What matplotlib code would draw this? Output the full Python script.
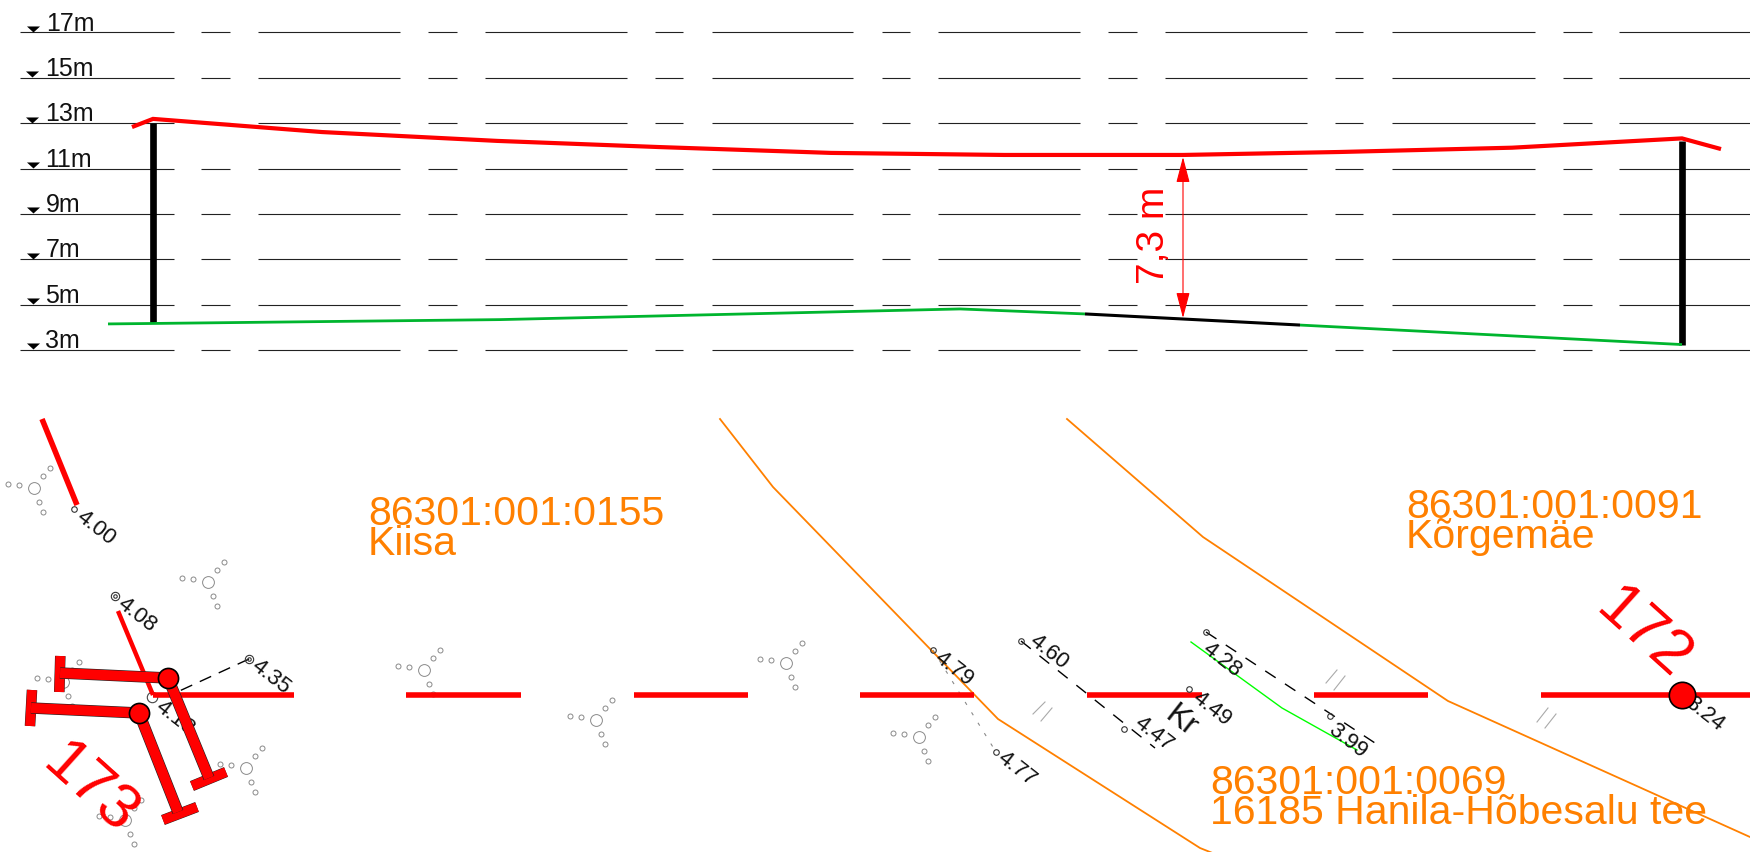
import matplotlib
matplotlib.use('Agg')
import matplotlib.pyplot as plt
import matplotlib.patheffects as pe
import numpy as np

plt.rcParams['font.family'] = ['Liberation Sans', 'DejaVu Sans']

W, H = 1750, 852

# profile part: x in pixels, y in metres
levels = [17, 15, 13, 11, 9, 7, 5, 3]
level_labels = ['17m', '15m', '13m', '11m', '9m', '7m', '5m', '3m']
level_label_x = [46, 45, 45, 45, 45.5, 45.5, 45.5, 45.5]
tri_x = [33, 32, 32, 32.5, 32.5, 32.5, 32.5, 32.5]
grid_start = [20, 201, 258, 428, 485, 655, 712, 882, 938, 1108, 1165, 1335, 1392, 1563, 1619]
grid_end = [174, 230, 400, 457, 627, 683, 853, 910, 1080, 1137, 1307, 1363, 1535, 1592, 1750]

red_x = [132, 153, 322, 497, 658, 831, 1004, 1183, 1339, 1512, 1682, 1721]
red_y = [12.83, 13.19, 12.61, 12.22, 11.95, 11.69, 11.60, 11.60, 11.73, 11.92, 12.33, 11.86]
green_x = [108, 153, 500, 960, 1085]
green_y = [4.15, 4.17, 4.34, 4.81, 4.59]
black_x = [1085, 1300]
black_y = [4.59, 4.10]
green2_x = [1300, 1682]
green2_y = [4.10, 3.24]
piles_x = [153, 1682]
piles_bottom = [4.17, 3.22]
piles_top = [13.0, 12.2]
arrow_x = 1183
arrow_top = 11.51
arrow_bottom = 4.41

# plan part: pixel positions on the sheet
road_start = [153, 406, 634, 860, 1087, 1314, 1541]
road_end = [294, 521, 748, 974, 1202, 1428, 1750]
road_y = 695
orange1_x = [720, 773, 998, 1200, 1225]
orange1_y = [419, 487, 719, 848, 858]
orange2_x = [1067, 1203, 1448, 1750]
orange2_y = [419, 537, 701, 837]
green_plan_x = [1191, 1282, 1357]
green_plan_y = [642, 708, 750]

cluster_x = [34, 208, 63, 246, 125, 424, 595.5, 786, 918.5]
cluster_y = [488, 582, 682, 768, 820, 670, 720, 663, 737]
small_dx = [-25.7, -14.7, 9.3, 16.3, 5.3, 9.3]
small_dy = [-4.3, -2.7, -11.7, -20.3, 13.7, 24.3]

hatch_x0 = [1033, 1041, 1326, 1334, 1537, 1545]
hatch_y0 = [714, 721, 683, 690, 722, 728]
hatch_x1 = [1045, 1052, 1337, 1345, 1548, 1556]
hatch_y1 = [702, 708, 670, 676, 708, 714]

point_x = [74, 933, 1021, 1124, 1189, 1206, 1330, 996]
point_y = [509, 650, 641, 729, 689, 632, 716, 752]
ring_x = [115, 249]
ring_y = [596, 659]

spot_labels = ['4.00', '4.08', '4.35', '4.18', '4.79', '4.60', '4.47', '4.49', '4.28', '3.99', '4.77', '3.24']
spot_x = [96, 137, 271, 175, 954, 1049, 1154, 1212, 1222, 1347, 1017, 1705]
spot_y = [528, 615, 677, 718, 669, 652, 734, 709, 660, 741, 769, 714]

fig = plt.figure(figsize=(W / 100, H / 100), dpi=100)

# metre scale in the top part of the sheet
ax = fig.add_axes([0, 1 - 400 / H, 1, 400 / H])
ax.set_xlim(0, W)
ax.set_ylim(3 - 50 / 22.68, 3 + 350 / 22.68)
ax.axis('off')

for lev in levels:
    ax.hlines([lev] * len(grid_start), grid_start, grid_end, color='#222222', lw=0.8)
tri = [(-6.5, 6), (6.5, 6), (0, 0)]
for i in range(len(levels)):
    ax.plot(tri_x[i], levels[i] + 0.03, marker=tri, ms=9.4, color='black', mew=0)
    ax.text(level_label_x[i], levels[i] + 0.08, level_labels[i], fontsize=18, ha='left', va='baseline', color='#111111')

ax.vlines(piles_x, piles_bottom, piles_top, color='black', lw=4.8)
ax.plot(red_x, red_y, color='#ff0000', lw=3, solid_capstyle='butt', solid_joinstyle='miter')
ax.plot(green_x, green_y, color='#00b52e', lw=2, solid_capstyle='butt')
ax.plot(green2_x, green2_y, color='#00b52e', lw=2, solid_capstyle='butt')
ax.plot(black_x, black_y, color='black', lw=2.2, solid_capstyle='butt')
ax.annotate('', xy=(arrow_x, arrow_top), xytext=(arrow_x, arrow_bottom),
            arrowprops=dict(arrowstyle='<|-|>,head_length=1.6,head_width=0.42', color='#ff0000', lw=0.8, shrinkA=0, shrinkB=0))
ax.text(1154, 8.05, '7,3 m', color='#ff0000', fontsize=28, rotation=90, ha='center', va='center')

# plan drawing
ax2 = fig.add_axes([0, 0, 1, 1], zorder=2)
ax2.patch.set_alpha(0)
ax2.set_xlim(0, W)
ax2.set_ylim(H, 0)
ax2.axis('off')

for cx, cy in zip(cluster_x, cluster_y):
    ax2.plot(cx, cy, 'o', ms=8.5, mfc='none', mec='#8a8a8a', mew=0.7, zorder=2)
    ax2.plot(cx + np.array(small_dx), cy + np.array(small_dy), 'o', ms=3.6, mfc='none', mec='#8a8a8a', mew=0.7, ls='none', zorder=2)

# dashed levelling lines
ax2.plot([249, 175], [659, 693], color='black', lw=1, dashes=(9, 6), zorder=3)
ax2.plot([1021, 1155], [641, 748], color='black', lw=1, dashes=(9, 8), zorder=3)
ax2.plot([1206, 1375], [632, 743], color='black', lw=1, dashes=(9, 8), zorder=3)
ax2.plot([933, 996], [650, 752], color='#888888', lw=0.8, dashes=(3, 8), zorder=3)

# double strokes beside the road
for x0, y0, x1, y1 in zip(hatch_x0, hatch_y0, hatch_x1, hatch_y1):
    ax2.plot([x0, x1], [y0, y1], color='#aaaaaa', lw=0.8, zorder=2)

ax2.plot(orange1_x, orange1_y, color='#ff8000', lw=1.3, zorder=4)
ax2.plot(orange2_x, orange2_y, color='#ff8000', lw=1.3, zorder=4)
ax2.plot(green_plan_x, green_plan_y, color='#00ff00', lw=1, zorder=4)

ax2.hlines([road_y] * len(road_start), road_start, road_end, color='#ff0000', lw=4, zorder=5)
ax2.plot([42, 77], [419, 505], color='#ff0000', lw=4, solid_capstyle='butt', zorder=5)
ax2.plot([118, 153], [611, 695], color='#ff0000', lw=3.2, solid_capstyle='butt', zorder=5)

ax2.plot(point_x, point_y, 'o', ms=4, mfc='none', mec='#333333', mew=0.8, ls='none', zorder=6)
ax2.plot(ring_x, ring_y, 'o', ms=6, mfc='none', mec='#333333', mew=0.8, ls='none', zorder=6)
ax2.plot(ring_x, ring_y, 'o', ms=2.5, mfc='none', mec='#333333', mew=0.8, ls='none', zorder=6)
ax2.plot(152, 697, 'o', ms=7.5, mfc='none', mec='#444444', mew=0.8, zorder=4)

for lab, sx, sy in zip(spot_labels, spot_x, spot_y):
    ax2.text(sx, sy, lab, fontsize=16, rotation=-38, rotation_mode='anchor', ha='center', va='center', color='#111111', zorder=6)
ax2.text(1181, 722, 'Kr', fontsize=23, rotation=-38, rotation_mode='anchor', ha='center', va='center', color='#111111', zorder=6)

# cross sections
edge = [pe.withStroke(linewidth=8.2, foreground='#222222')]
edge2 = [pe.withStroke(linewidth=7.6, foreground='#222222')]
sections = [
    ([168, 60], [678, 673], [60.3, 59.3], [656, 692]),
    ([168, 209], [678, 778], [192, 226], [786, 772]),
    ([139, 31], [713, 708], [32, 30], [690, 726]),
    ([139, 178], [713, 812], [163, 197], [820, 807]),
]
for ax_, ay_, bx_, by_ in sections:
    ax2.plot(bx_, by_, color='#ff0000', lw=7, solid_capstyle='butt', path_effects=edge2, zorder=7)
    ax2.plot(ax_, ay_, color='#ff0000', lw=7.3, solid_capstyle='butt', path_effects=edge, zorder=7)
ax2.plot([168, 139], [678, 713], 'o', ms=14.5, mfc='#ff0000', mec='black', mew=1.2, ls='none', zorder=8)
ax2.plot(1682, 695, 'o', ms=19, mfc='#ff0000', mec='black', mew=1.2, zorder=8)

ax2.text(89, 789, '173', color='#ff0000', fontsize=45, rotation=-42, rotation_mode='anchor', ha='center', va='center', zorder=9)
ax2.text(1643, 634, '172', color='#ff0000', fontsize=45, rotation=-42, rotation_mode='anchor', ha='center', va='center', zorder=9)

for x0, y0, line1, line2 in [(368, 525, '86301:001:0155', 'Kiisa'),
                             (1406, 518, '86301:001:0091', 'Kõrgemäe'),
                             (1210, 794, '86301:001:0069', '16185 Hanila-Hõbesalu tee')]:
    ax2.text(x0, y0, line1, color='#ff8000', fontsize=29.5, ha='left', va='baseline', zorder=9)
    ax2.text(x0, y0 + 30, line2, color='#ff8000', fontsize=29.5, ha='left', va='baseline', zorder=9)

fig.savefig('out.png', dpi=100, facecolor='white')
